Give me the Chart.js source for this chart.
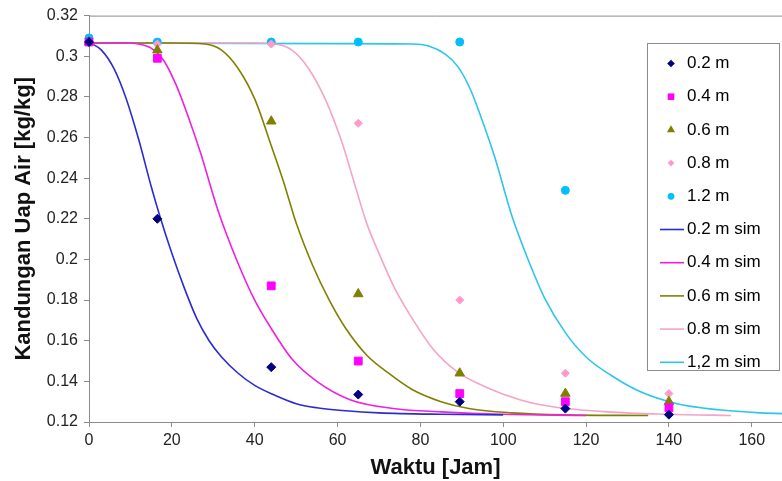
<!DOCTYPE html>
<html>
<head>
<meta charset="utf-8">
<script src="https://cdn.jsdelivr.net/npm/chart.js@4.4.1/dist/chart.umd.min.js"></script>
<style>
  html, body { margin: 0; padding: 0; background: #fff; overflow: hidden; }
  canvas { position: absolute; left: 0; top: 0; }
</style>
</head>
<body>
<canvas id="myChart" width="782" height="481"></canvas>
<script>
// measured points
const measTimes = [0, 16.5, 44, 65, 89.5, 115, 140]
const meas02 = [0.307, 0.220, 0.147, 0.1335, 0.130, 0.1266, 0.1236]
const meas04 = [0.307, 0.299, 0.187, 0.150, 0.134, 0.130, 0.127]
const meas06 = [0.307, 0.303, 0.268, 0.183, 0.144, 0.134, 0.130]
const meas08 = [0.307, 0.306, 0.306, 0.267, 0.180, 0.144, 0.134]
const meas12 = [0.309, 0.307, 0.307, 0.307, 0.307, 0.234, null]

// simulation curves
const sim02Time = [0, 3, 6, 9, 12, 15, 17, 20, 23, 26, 29, 32, 36, 40, 45, 50, 55, 62, 70, 85, 100]
const sim02 = [0.307, 0.303, 0.294, 0.279, 0.259, 0.236, 0.222, 0.203, 0.186, 0.171, 0.160, 0.152, 0.144, 0.138, 0.133, 0.129, 0.127, 0.1255, 0.1245, 0.1238, 0.1235]
const sim04Time = [0, 8, 12, 15, 18, 21, 24, 27, 31, 36, 40, 44, 49, 55, 63, 74, 85, 100, 120]
const sim04 = [0.3065, 0.3065, 0.306, 0.304, 0.298, 0.286, 0.270, 0.252, 0.225, 0.198, 0.180, 0.166, 0.151, 0.140, 0.131, 0.1265, 0.125, 0.1238, 0.1232]
const sim06Time = [0, 20, 28, 32, 36, 40, 44, 47, 50, 54, 58, 62, 67, 72, 78, 85, 92, 102, 115, 135]
const sim06 = [0.3065, 0.3065, 0.306, 0.303, 0.294, 0.279, 0.256, 0.238, 0.218, 0.197, 0.180, 0.166, 0.153, 0.1445, 0.136, 0.130, 0.1265, 0.1245, 0.1235, 0.1232]
const sim08Time = [0, 40, 45, 49, 53, 57, 61, 64, 67, 70, 74, 78, 83, 89, 96, 104, 112, 125, 140, 155]
const sim08 = [0.3065, 0.3065, 0.306, 0.303, 0.294, 0.279, 0.258, 0.238, 0.218, 0.203, 0.185, 0.171, 0.156, 0.1445, 0.137, 0.131, 0.1275, 0.125, 0.1238, 0.1232]
const sim12Time = [0, 60, 78, 82, 86, 89, 92, 95, 98, 102, 106, 110, 115, 120, 126, 133, 142, 152, 162, 170]
const sim12 = [0.3065, 0.3062, 0.306, 0.305, 0.301, 0.295, 0.284, 0.268, 0.250, 0.222, 0.200, 0.181, 0.164, 0.152, 0.143, 0.135, 0.129, 0.126, 0.1245, 0.124]

const yTicks = [0.12, 0.14, 0.16, 0.18, 0.2, 0.22, 0.24, 0.26, 0.28, 0.3, 0.32]
const xTicks = [0, 20, 40, 60, 80, 100, 120, 140, 160]

const FONT = '"Liberation Sans", Arial, sans-serif'

function toXY(xs, ys) {
    return xs.map((x, i) => ({x: x, y: ys[i]}))
}

function pointSet(label, ys, color, style, radius) {
    return {
        label: label,
        data: toXY(measTimes, ys),
        showLine: false,
        pointStyle: style,
        pointRadius: radius,
        pointHoverRadius: radius,
        pointBackgroundColor: color,
        pointBorderColor: color,
        pointBorderWidth: 1,
        backgroundColor: color,
        borderColor: color,
        clip: false,
        order: 0
    }
}

function simSet(label, xs, ys, color) {
    return {
        label: label,
        data: toXY(xs, ys),
        showLine: true,
        borderColor: color,
        backgroundColor: color,
        borderWidth: 1.6,
        pointRadius: 0,
        cubicInterpolationMode: 'monotone',
        order: 1
    }
}

const datasets = [
    pointSet('0.2 m', meas02, '#000080', 'rectRot', 4.5),
    pointSet('0.4 m', meas04, '#ff00ff', 'rect', 5.5),
    pointSet('0.6 m', meas06, '#808000', 'triangle', 5.5),
    pointSet('0.8 m', meas08, '#ff99cc', 'rectRot', 4),
    pointSet('1.2 m', meas12, '#00bfff', 'circle', 4),
    simSet('0.2 m sim', sim02Time, sim02, '#2b2bd6'),
    simSet('0.4 m sim', sim04Time, sim04, '#f020e0'),
    simSet('0.6 m sim', sim06Time, sim06, '#808000'),
    simSet('0.8 m sim', sim08Time, sim08, '#f5a3c8'),
    simSet('1,2 m sim', sim12Time, sim12, '#2cc6ea')
]

function drawMarker(ctx, style, r, x, y) {
    ctx.beginPath()
    if (style === 'rectRot') {
        ctx.moveTo(x, y - r); ctx.lineTo(x + r, y); ctx.lineTo(x, y + r); ctx.lineTo(x - r, y)
    } else if (style === 'rect') {
        const s = r * Math.SQRT1_2
        ctx.rect(x - s, y - s, 2 * s, 2 * s)
    } else if (style === 'triangle') {
        const h = r * 1.5
        ctx.moveTo(x, y - h * 2 / 3); ctx.lineTo(x + r * 0.87, y + h / 3); ctx.lineTo(x - r * 0.87, y + h / 3)
    } else {
        ctx.arc(x, y, r, 0, Math.PI * 2)
    }
    ctx.closePath()
    ctx.fill()
}

// legend box sitting inside the plot, like the excel one
const boxLegend = {
    id: 'boxLegend',
    afterDraw(chart) {
        const ctx = chart.ctx
        ctx.save()
        ctx.fillStyle = '#fff'
        ctx.fillRect(647.5, 43.5, 132, 327)
        ctx.strokeStyle = '#8c8c8c'
        ctx.lineWidth = 1
        ctx.strokeRect(647.5, 43.5, 132, 327)
        ctx.font = '17px ' + FONT
        ctx.textBaseline = 'middle'
        chart.data.datasets.forEach((ds, i) => {
            const y = 63.5 + i * 33.2
            if (ds.showLine) {
                ctx.strokeStyle = ds.borderColor
                ctx.lineWidth = 1.6
                ctx.beginPath()
                ctx.moveTo(660, y)
                ctx.lineTo(684, y)
                ctx.stroke()
            } else {
                ctx.fillStyle = ds.pointBackgroundColor
                drawMarker(ctx, ds.pointStyle, ds.pointRadius * 0.85, 671, y)
            }
            ctx.fillStyle = '#000'
            ctx.fillText(ds.label, 687, y)
        })
        ctx.restore()
    }
}

// top border of the plot area
const plotBorder = {
    id: 'plotBorder',
    beforeDatasetsDraw(chart) {
        const a = chart.chartArea
        const ctx = chart.ctx
        ctx.save()
        ctx.strokeStyle = '#8c8c8c'
        ctx.lineWidth = 1
        ctx.beginPath()
        ctx.moveTo(a.left, a.top + 0.5)
        ctx.lineTo(a.right, a.top + 0.5)
        ctx.stroke()
        ctx.restore()
    }
}

const ctx = document.getElementById('myChart').getContext('2d')
const myChart = new Chart(ctx, {
    type: 'scatter',
    data: {datasets: datasets},
    plugins: [plotBorder, boxLegend],
    options: {
        responsive: false,
        animation: false,
        layout: {autoPadding: false, padding: {top: 15, right: 0, bottom: 0, left: 0}},
        plugins: {
            legend: {display: false},
            tooltip: {enabled: false}
        },
        scales: {
            x: {
                type: 'linear',
                min: 0,
                max: 167.3,
                afterBuildTicks: scale => {
                    scale.ticks = xTicks.map(v => ({value: v}))
                },
                afterFit: scale => {
                    scale.height = 59
                    scale.paddingRight = 0
                    scale.paddingLeft = 0
                },
                grid: {drawOnChartArea: false, drawTicks: true, tickLength: 5, color: '#8c8c8c'},
                border: {color: '#8c8c8c', width: 1},
                ticks: {
                    color: '#222',
                    padding: 4,
                    maxRotation: 0,
                    font: {family: FONT, size: 16}
                },
                title: {
                    display: true,
                    text: 'Waktu [Jam]',
                    color: '#111',
                    padding: {top: 2, bottom: 0},
                    font: {family: FONT, size: 22, weight: 'bold'}
                }
            },
            y: {
                min: 0.12,
                max: 0.32,
                afterBuildTicks: scale => {
                    scale.ticks = yTicks.map(v => ({value: v}))
                },
                afterFit: scale => { scale.width = 89 },
                grid: {drawOnChartArea: false, drawTicks: true, tickLength: 5, color: '#8c8c8c'},
                border: {color: '#8c8c8c', width: 1},
                ticks: {
                    color: '#222',
                    padding: 6,
                    callback: v => String(Number(v.toFixed(2))),
                    font: {family: FONT, size: 16}
                },
                title: {
                    display: true,
                    text: 'Kandungan Uap Air [kg/kg]',
                    color: '#111',
                    padding: {top: 11, bottom: 0},
                    font: {family: FONT, size: 22, weight: 'bold'}
                }
            }
        }
    }
})
</script>
</body>
</html>
